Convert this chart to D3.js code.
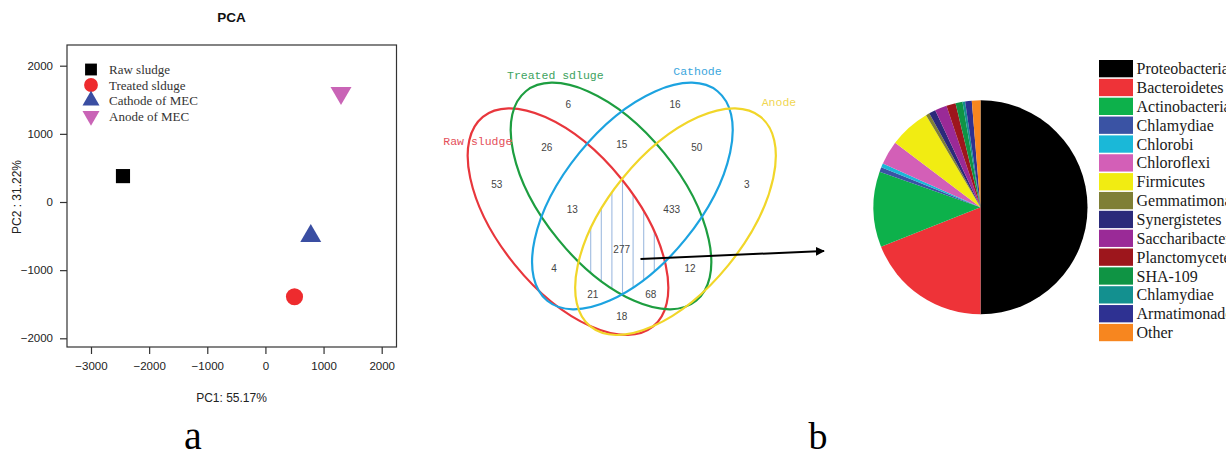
<!DOCTYPE html>
<html><head><meta charset="utf-8">
<script src="https://cdn.jsdelivr.net/npm/d3@7"></script>
<style>html,body{margin:0;padding:0;background:#fff;overflow:hidden}</style>
</head><body>
<svg id="c" width="1226" height="454"></svg>
<script>
// ---------- DATA ----------
// PCA
const pcaGroups = ["Raw sludge", "Treated slduge", "Cathode of MEC", "Anode of MEC"];
const pc1Values = [-2450, 500, 780, 1300];
const pc2Values = [380, -1390, -500, 1600];
const pcaXTicks = [-3000, -2000, -1000, 0, 1000, 2000];
const pcaYTicks = [-2000, -1000, 0, 1000, 2000];
const pcaXTitle = "PC1: 55.17%";
const pcaYTitle = "PC2 : 31.22%";
// Venn
const vennSets = ["Raw sludge", "Treated sdluge", "Cathode", "Anode"];
const vennCounts = [6, 16, 26, 15, 50, 53, 3, 13, 433, 277, 4, 12, 21, 68, 18];
// Pie
const phyla = ["Proteobacteria", "Bacteroidetes", "Actinobacteria", "Chlamydiae", "Chlorobi",
  "Chloroflexi", "Firmicutes", "Gemmatimonadetes", "Synergistetes", "Saccharibacteria",
  "Planctomycetes", "SHA-109", "Chlamydiae", "Armatimonadetes", "Other"];
const phylaShare = [50.0, 19.0, 11.4, 0.7, 0.6, 3.6, 6.2, 0.55, 1.0, 1.8, 1.4, 1.05, 0.4, 1.0, 1.3];

// ---------- STYLE / LAYOUT ----------
const pcaColors = ["#000000", "#ee2b2e", "#3a4ea2", "#c964b6"];
const pcaSymbols = [d3.symbolSquare, d3.symbolCircle, d3.symbolTriangle, d3.symbolTriangle];
const pcaRot = [0, 0, 0, 180];
const pcaSize = [200, 230, 190, 190];
const legSize = [140, 150, 125, 125];
const vennColors = ["#e8363c", "#1d9e40", "#1ca3e0", "#f1d629"];
const vennTextColors = ["#e4505a", "#3da25e", "#3aa6dd", "#f0d652"];
const pieColors = ["#000000", "#ee3338", "#0db14b", "#3a53a4", "#1ab8d8", "#d35fb7", "#f1ec12",
  "#7f7f35", "#2b2a7a", "#9a2a97", "#9d161c", "#0f9444", "#13908f", "#2e3192", "#f7861f"];

const svg = d3.select("#c");
svg.append("rect").attr("width", 1226).attr("height", 454).attr("fill", "#fff");

// ---------- PANEL a: PCA ----------
const plot = {l: 67, t: 45, r: 396.5, b: 347};
const x = d3.scaleLinear().domain([-3000, 2000]).range([91, 381.7]);
const y = d3.scaleLinear().domain([-2000, 2000]).range([338.3, 65.7]);
const pa = svg.append("g");
pa.append("rect").attr("x", plot.l).attr("y", plot.t).attr("width", plot.r - plot.l).attr("height", plot.b - plot.t)
  .attr("fill", "none").attr("stroke", "#333").attr("stroke-width", 1.2);
const xAxis = pa.append("g").attr("transform", `translate(0,${plot.b})`)
  .call(d3.axisBottom(x).tickValues(pcaXTicks).tickSize(7).tickPadding(8).tickFormat(d3.format("d")));
const yAxis = pa.append("g").attr("transform", `translate(${plot.l},0)`)
  .call(d3.axisLeft(y).tickValues(pcaYTicks).tickSize(7).tickPadding(7).tickFormat(d3.format("d")));
[xAxis, yAxis].forEach(g => {
  g.select(".domain").remove();
  g.selectAll("line").attr("stroke", "#333").attr("stroke-width", 1.2);
  g.selectAll("text").attr("font-family", "Liberation Sans, Arial, sans-serif").attr("font-size", 11.5).attr("fill", "#222");
});
pa.append("text").attr("x", 231.5).attr("y", 22).attr("text-anchor", "middle")
  .attr("font-family", "Liberation Sans, Arial, sans-serif").attr("font-weight", "bold").attr("font-size", 13.5).attr("fill", "#111").text("PCA");
pa.append("text").attr("x", 231.5).attr("y", 402).attr("text-anchor", "middle")
  .attr("font-family", "Liberation Sans, Arial, sans-serif").attr("font-size", 12).attr("fill", "#222").text(pcaXTitle);
pa.append("text").attr("transform", "translate(21,197) rotate(-90)").attr("text-anchor", "middle")
  .attr("font-family", "Liberation Sans, Arial, sans-serif").attr("font-size", 12).attr("fill", "#222").text(pcaYTitle);

pa.selectAll("path.pt").data(pcaGroups).join("path").attr("class", "pt")
  .attr("d", (d, i) => d3.symbol().type(pcaSymbols[i]).size(pcaSize[i])())
  .attr("transform", (d, i) => `translate(${x(pc1Values[i])},${y(pc2Values[i])}) rotate(${pcaRot[i]})`)
  .attr("fill", (d, i) => pcaColors[i]);

const leg = pa.append("g");
pcaGroups.forEach((g, i) => {
  const ly = 69.5 + i * 15.5;
  leg.append("path").attr("d", d3.symbol().type(pcaSymbols[i]).size(legSize[i])())
    .attr("transform", `translate(91,${ly}) rotate(${pcaRot[i]})`).attr("fill", pcaColors[i]);
  leg.append("text").attr("x", 109).attr("y", ly).attr("dy", "0.35em")
    .attr("font-family", "Liberation Serif, Times New Roman, serif").attr("font-size", 13).attr("fill", "#333").text(g);
});
svg.append("text").attr("x", 193).attr("y", 449).attr("text-anchor", "middle")
  .attr("font-family", "Liberation Serif, Times New Roman, serif").attr("font-size", 40).attr("fill", "#000").text("a");

// ---------- PANEL b: Venn ----------
const ellipses = [
  {cx: 568, cy: 221.7, rx: 135, ry: 68.4, rot: 50.9},
  {cx: 611, cy: 196, rx: 135, ry: 68.4, rot: 50.9},
  {cx: 632.4, cy: 196, rx: 135, ry: 68.4, rot: -50.9},
  {cx: 675.5, cy: 221.7, rx: 135, ry: 68.4, rot: -50.9}
];
const vennLabelPos = [[443.3, 140.7], [507, 75], [673.3, 70.7], [761.7, 102.3]];
const countPos = [[568.3, 104.3], [675, 104.3], [546.7, 147.7], [621.7, 144.3], [696.7, 147.7],
  [496.7, 184.3], [746.7, 184.3], [572.3, 209.3], [671.7, 209.3], [621.7, 249.3], [554, 268.3],
  [690, 268.3], [592.7, 294.3], [650.7, 294.3], [621.7, 316.7]];
const defs = svg.append("defs");
ellipses.forEach((e, i) => {
  defs.append("clipPath").attr("id", "clipE" + i).append("ellipse")
    .attr("cx", e.cx).attr("cy", e.cy).attr("rx", e.rx).attr("ry", e.ry)
    .attr("transform", `rotate(${e.rot},${e.cx},${e.cy})`);
});
// hatch in four-way intersection
let hg = svg.append("g");
let inner = hg;
for (let i = 0; i < 4; i++) inner = inner.append("g").attr("clip-path", `url(#clipE${i})`);
inner.selectAll("line").data(d3.range(590.7, 660, 10.6)).join("line")
  .attr("x1", d => d).attr("x2", d => d).attr("y1", 170).attr("y2", 300)
  .attr("stroke", "#9fbbe0").attr("stroke-width", 1.1);

const vg = svg.append("g");
vg.selectAll("ellipse").data(vennSets).join("ellipse")
  .attr("cx", (d, i) => ellipses[i].cx).attr("cy", (d, i) => ellipses[i].cy)
  .attr("rx", (d, i) => ellipses[i].rx).attr("ry", (d, i) => ellipses[i].ry)
  .attr("transform", (d, i) => `rotate(${ellipses[i].rot},${ellipses[i].cx},${ellipses[i].cy})`)
  .attr("fill", "none").attr("stroke", (d, i) => vennColors[i]).attr("stroke-width", 2.2);
vg.selectAll("text.set").data(vennSets).join("text").attr("class", "set")
  .attr("x", (d, i) => vennLabelPos[i][0]).attr("y", (d, i) => vennLabelPos[i][1]).attr("dy", "0.35em")
  .attr("font-family", "Liberation Mono, Courier New, monospace").attr("font-size", 11.5)
  .attr("fill", (d, i) => vennTextColors[i]).text(d => d);
vg.selectAll("text.cnt").data(vennCounts).join("text").attr("class", "cnt")
  .attr("x", (d, i) => countPos[i][0]).attr("y", (d, i) => countPos[i][1]).attr("dy", "0.35em")
  .attr("text-anchor", "middle").attr("font-family", "Liberation Sans, Arial, sans-serif").attr("font-size", 10)
  .attr("fill", "#444").text(d => d);

// arrow
defs.append("marker").attr("id", "ah").attr("viewBox", "0 0 10 10").attr("refX", 9).attr("refY", 5)
  .attr("markerWidth", 4.5).attr("markerHeight", 4.5).attr("orient", "auto")
  .append("path").attr("d", "M0,0 L10,5 L0,10 Z").attr("fill", "#000");
svg.append("line").attr("x1", 640.5).attr("y1", 259).attr("x2", 824).attr("y2", 251)
  .attr("stroke", "#000").attr("stroke-width", 2).attr("marker-end", "url(#ah)");

// ---------- Pie ----------
const pieCenter = [980.5, 207.3], pieR = 107;
const pie = d3.pie().sort(null).value(d => d)(phylaShare);
const arc = d3.arc().innerRadius(0).outerRadius(pieR);
svg.append("g").attr("transform", `translate(${pieCenter})`)
  .selectAll("path").data(pie).join("path").attr("d", arc).attr("fill", (d, i) => pieColors[i]);

// pie legend
const lg = svg.append("g");
phyla.forEach((p, i) => {
  const top = 60 + i * 18.85;
  lg.append("rect").attr("x", 1099).attr("y", top).attr("width", 34).attr("height", 17.3).attr("fill", pieColors[i]);
  lg.append("text").attr("x", 1136.5).attr("y", top + 14.2)
    .attr("font-family", "Liberation Serif, Times New Roman, serif").attr("font-size", 16).attr("fill", "#1a1a1a").text(p);
});
svg.append("text").attr("x", 818).attr("y", 449).attr("text-anchor", "middle")
  .attr("font-family", "Liberation Serif, Times New Roman, serif").attr("font-size", 38).attr("fill", "#000").text("b");
</script>
</body></html>
